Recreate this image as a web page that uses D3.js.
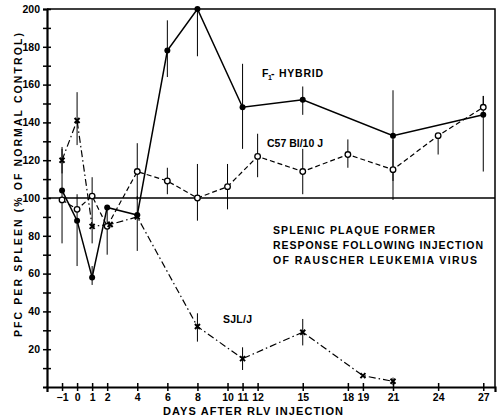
<!DOCTYPE html>
<html>
<head>
<meta charset="utf-8">
<script src="https://cdn.jsdelivr.net/npm/d3@7"></script>
<style>
	body { margin: 0; background: #fff; }
	svg { display: block; font-family: 'Liberation Sans', Arial, sans-serif; font-weight: bold; }
</style>
</head>
<body>
<svg width="500" height="418"></svg>
<script>

// F1 hybrid (solid line, filled dots)
const f1Days = [ -1, 0, 1, 2, 4, 6, 8, 11, 15, 21, 27 ],
	f1Values = [ 104, 88, 58, 95, 91, 178, 200, 148, 152, 133, 144 ],
	f1ErrUp = [ 22, 14, 6, 0, 10, 16, 0, 23, 7, 24, 10 ],
	f1ErrDown = [ 28, 24, 4, 0, 19, 14, 25, 22, 8, 24, 30 ]

// C57 Bl/10 J (dashed line, open dots)
const c57Days = [ -1, 0, 1, 2, 4, 6, 8, 10, 12, 15, 18, 21, 24, 27 ],
	c57Values = [ 99, 94, 101, 85, 114, 109, 100, 106, 122, 114, 123, 115, 133, 148 ],
	c57ErrUp = [ 0, 0, 10, 10, 15, 7, 18, 12, 12, 12, 8, 16, 0, 6 ],
	c57ErrDown = [ 0, 0, 0, 15, 15, 7, 12, 12, 11, 12, 7, 16, 10, 0 ]

// SJL/J (dash-dot line, crosses)
const sjlDays = [ -1, 0, 1, 2.2, 4, 8, 11, 15, 19, 21 ],
	sjlValues = [ 120, 141, 85, 86, 90, 32, 15, 29, 6, 3 ],
	sjlErrUp = [ 7, 15, 16, 0, 0, 7, 6, 7, 0, 2 ],
	sjlErrDown = [ 7, 13, 9, 0, 0, 8, 6, 7, 0, 2 ]

const dayTicks = [ -1, 0, 1, 2, 4, 6, 8, 10, 11, 12, 15, 18, 19, 21, 24, 27 ],
	yTicks = d3.range( 10, 201, 10 ),
	yLabels = [ 20, 40, 60, 80, 100, 120, 140, 160, 180, 200 ]

const titleLines = [ 'SPLENIC PLAQUE FORMER', 'RESPONSE FOLLOWING INJECTION', 'OF RAUSCHER LEUKEMIA VIRUS' ]

const svg = d3.select( 'svg' ),
	plotLeft = 47, plotRight = 495, plotTop = 9, plotBottom = 387,

	x = d3.scaleLinear()
		.domain( [ -2, 27.78 ] )
		.range( [ plotLeft, plotRight ] ),

	y = d3.scaleLinear()
		.domain( [ 0, 200 ] )
		.range( [ plotBottom, plotTop ] )

function makeSeries( days, values, up, down ) {

	return days.map( ( d, i ) => ( { day: d, value: values[ i ], up: up[ i ], down: down[ i ] } ) )

}

const series = [
	{ name: 'f1', data: makeSeries( f1Days, f1Values, f1ErrUp, f1ErrDown ), dash: null },
	{ name: 'c57', data: makeSeries( c57Days, c57Values, c57ErrUp, c57ErrDown ), dash: '5,3' },
	{ name: 'sjl', data: makeSeries( sjlDays, sjlValues, sjlErrUp, sjlErrDown ), dash: '7,3,1.5,3' }
]

// frame and 100% line
svg.append( 'path' )
	.attr( 'd', `M${ plotLeft },${ plotTop }H${ plotRight }V${ plotBottom }` )
	.attr( 'fill', 'none' )
	.attr( 'stroke', '#000' )
	.attr( 'stroke-width', 1.5 )

svg.append( 'line' )
	.attr( 'x1', plotLeft ).attr( 'x2', plotRight )
	.attr( 'y1', y( 100 ) ).attr( 'y2', y( 100 ) )
	.attr( 'stroke', '#000' )
	.attr( 'stroke-width', 1.3 )

// axes
const xAxis = svg.append( 'g' )
	.attr( 'transform', `translate(0,${ plotBottom })` )
	.call( d3.axisBottom( x ).tickValues( dayTicks ).tickSizeOuter( 0 ).tickSize( 5 ).tickPadding( 2 ) )

xAxis.select( '.domain' ).attr( 'stroke-width', 2.2 )
xAxis.selectAll( '.tick line' ).attr( 'y1', -4 ).attr( 'y2', 4 ).attr( 'stroke-width', 1.5 )
xAxis.selectAll( '.tick text' )
	.attr( 'font-size', 10.5 )
	.attr( 'font-family', 'Liberation Sans, Arial, sans-serif' )
	.attr( 'font-weight', 'bold' )
	.attr( 'fill', '#000' )

const yAxis = svg.append( 'g' )
	.attr( 'transform', `translate(${ plotLeft },0)` )
	.call( d3.axisLeft( y ).tickValues( yTicks ).tickSizeOuter( 0 ).tickSize( 4 ).tickPadding( 3 )
		.tickFormat( d => yLabels.includes( d ) ? d : '' ) )

yAxis.select( '.domain' ).attr( 'stroke-width', 2.2 )
yAxis.selectAll( '.tick line' ).attr( 'x1', -4 ).attr( 'x2', 4 ).attr( 'stroke-width', 1.5 )
yAxis.selectAll( '.tick text' )
	.attr( 'font-size', 10.5 )
	.attr( 'font-family', 'Liberation Sans, Arial, sans-serif' )
	.attr( 'font-weight', 'bold' )
	.attr( 'fill', '#000' )

// axis titles
svg.append( 'text' )
	.attr( 'x', 163 )
	.attr( 'y', 415 )
	.attr( 'font-size', 11 )
	.attr( 'textLength', 180 )
	.attr( 'lengthAdjust', 'spacing' )
	.text( 'DAYS AFTER RLV INJECTION' )

svg.append( 'text' )
	.attr( 'transform', 'translate(22,337) rotate(-90)' )
	.attr( 'font-size', 10.5 )
	.attr( 'textLength', 304 )
	.attr( 'lengthAdjust', 'spacing' )
	.text( 'PFC PER SPLEEN (% OF NORMAL CONTROL)' )

// error bars
const clamp = v => Math.max( 0, Math.min( 200, v ) )

series.forEach( s => {

	svg.append( 'g' )
		.selectAll( 'line' )
		.data( s.data.filter( d => d.up || d.down ) )
		.enter()
		.append( 'line' )
		.attr( 'x1', d => x( d.day ) )
		.attr( 'x2', d => x( d.day ) )
		.attr( 'y1', d => y( clamp( d.value + d.up ) ) )
		.attr( 'y2', d => y( clamp( d.value - d.down ) ) )
		.attr( 'stroke', '#000' )
		.attr( 'stroke-width', 1 )

})

// lines
const line = d3.line()
	.x( d => x( d.day ) )
	.y( d => y( d.value ) )

series.forEach( s => {

	svg.append( 'path' )
		.datum( s.data )
		.attr( 'd', line )
		.attr( 'fill', 'none' )
		.attr( 'stroke', '#000' )
		.attr( 'stroke-width', s.name === 'f1' ? 1.5 : 1.2 )
		.attr( 'stroke-dasharray', s.dash )

})

// markers
svg.append( 'g' )
	.selectAll( 'circle' )
	.data( series[ 0 ].data )
	.enter()
	.append( 'circle' )
	.attr( 'cx', d => x( d.day ) )
	.attr( 'cy', d => y( d.value ) )
	.attr( 'r', 3 )
	.attr( 'fill', '#000' )

svg.append( 'g' )
	.selectAll( 'circle' )
	.data( series[ 1 ].data )
	.enter()
	.append( 'circle' )
	.attr( 'cx', d => x( d.day ) )
	.attr( 'cy', d => y( d.value ) )
	.attr( 'r', 2.8 )
	.attr( 'fill', '#fff' )
	.attr( 'stroke', '#000' )
	.attr( 'stroke-width', 1.3 )

svg.append( 'g' )
	.selectAll( 'path' )
	.data( series[ 2 ].data )
	.enter()
	.append( 'path' )
	.attr( 'transform', d => `translate(${ x( d.day ) },${ y( d.value ) })` )
	.attr( 'd', d3.symbol( d3.symbolX, 18 ) )
	.attr( 'fill', 'none' )
	.attr( 'stroke', '#000' )
	.attr( 'stroke-width', 2 )

// series labels
svg.append( 'text' ).attr( 'x', 262 ).attr( 'y', 77 ).attr( 'font-size', 10.5 ).text( 'F' )
svg.append( 'text' ).attr( 'x', 268 ).attr( 'y', 80 ).attr( 'font-size', 7 ).text( '1' )
svg.append( 'text' )
	.attr( 'x', 271 )
	.attr( 'y', 77 )
	.attr( 'font-size', 10.5 )
	.attr( 'textLength', 52 )
	.attr( 'lengthAdjust', 'spacing' )
	.text( '- HYBRID' )

svg.append( 'text' )
	.attr( 'x', 267 )
	.attr( 'y', 147 )
	.attr( 'font-size', 10.5 )
	.attr( 'textLength', 56 )
	.attr( 'lengthAdjust', 'spacing' )
	.text( 'C57 Bl/10 J' )

svg.append( 'text' )
	.attr( 'x', 223 )
	.attr( 'y', 323 )
	.attr( 'font-size', 10.5 )
	.attr( 'textLength', 29 )
	.attr( 'lengthAdjust', 'spacing' )
	.text( 'SJL/J' )

// caption
const titleWidths = [ 162, 210, 204 ]

svg.append( 'g' )
	.selectAll( 'text' )
	.data( titleLines )
	.enter()
	.append( 'text' )
	.attr( 'x', 273 )
	.attr( 'y', ( d, i ) => 234 + i * 15.2 )
	.attr( 'font-size', 10.5 )
	.attr( 'textLength', ( d, i ) => titleWidths[ i ] )
	.attr( 'lengthAdjust', 'spacing' )
	.text( d => d )

</script>
</body>
</html>
